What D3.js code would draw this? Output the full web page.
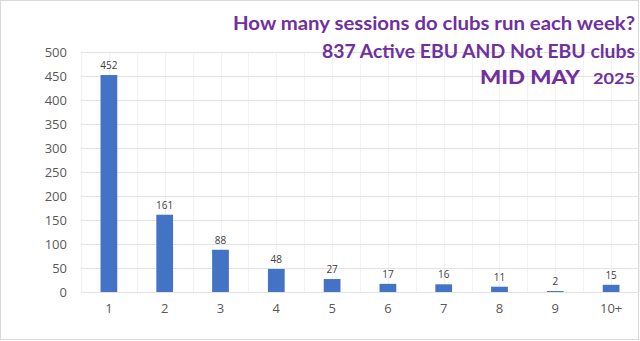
<!DOCTYPE html>
<html><head><meta charset="utf-8">
<script src="https://cdn.jsdelivr.net/npm/d3@7"></script>
<style>html,body{margin:0;padding:0;background:#fff;}svg{display:block;}</style>
</head><body>
<svg id="chart" width="640" height="341"></svg>
<script>
const categories = ["1","2","3","4","5","6","7","8","9","10+"];
const sessions = [452,161,88,48,27,17,16,11,2,15];
const yTicks = [0,50,100,150,200,250,300,350,400,450,500];
const titleLines = ["How many sessions do clubs run each week?","837 Active EBU AND Not EBU clubs"];
const titleLine3a = "MID MAY";
const titleLine3b = "2025";

const W = 640, H = 341;
const m = {left:81, right:1, top:52, bottom:49};
const svg = d3.select("#chart");

svg.append("rect").attr("x",0.5).attr("y",0.5).attr("width",W-2).attr("height",H-2)
  .attr("fill","#fff").attr("stroke","#d9d9d9");

const x = d3.scaleBand().domain(categories).range([m.left, W-m.right]);
const y = d3.scaleLinear().domain([0,500]).range([H-m.bottom, m.top]);

// vertical light grid lines at band boundaries and centers
const vlines = [];
categories.forEach(c => { vlines.push(x(c)); vlines.push(x(c)+x.bandwidth()/2); });
vlines.push(x(categories[categories.length-1])+x.bandwidth());
svg.append("g").selectAll("line").data(vlines).join("line")
  .attr("x1",d=>Math.round(d)+0.5).attr("x2",d=>Math.round(d)+0.5)
  .attr("y1",y(500)).attr("y2",y(0))
  .attr("stroke","#f2f2f2").attr("stroke-width",1);

// horizontal grid
svg.append("g").selectAll("line").data(yTicks).join("line")
  .attr("x1",m.left).attr("x2",W-m.right)
  .attr("y1",d=>Math.round(y(d))+0.5).attr("y2",d=>Math.round(y(d))+0.5)
  .attr("stroke","#e3e3e3").attr("stroke-width",1);

// y axis labels
const yAxis = d3.axisLeft(y).tickValues(yTicks).tickSize(0).tickPadding(0);
const gy = svg.append("g").attr("transform",`translate(67,0)`).call(yAxis);
gy.select(".domain").remove();
gy.selectAll("text").attr("font-family","'Open Sans', sans-serif").attr("font-size",13).attr("fill","#595959");

// x axis labels
const xAxis = d3.axisBottom(x).tickSize(0).tickPadding(0);
const gx = svg.append("g").attr("transform",`translate(0,${y(0)+12})`).call(xAxis);
gx.select(".domain").remove();
gx.selectAll("text").attr("font-family","'Open Sans', sans-serif").attr("font-size",13).attr("fill","#595959");

// bars
const bw = x.bandwidth()*0.3;
svg.append("g").selectAll("rect").data(sessions).join("rect")
  .attr("x",(d,i)=>x(categories[i])+x.bandwidth()/2-bw/2)
  .attr("width",bw)
  .attr("y",d=>y(d)).attr("height",d=>y(0)-y(d))
  .attr("fill","#4472C4");

// value labels
svg.append("g").selectAll("text").data(sessions).join("text")
  .attr("x",(d,i)=>x(categories[i])+x.bandwidth()/2)
  .attr("y",d=>y(d)-6)
  .attr("text-anchor","middle")
  .attr("font-family","'Open Sans', sans-serif").attr("font-size",10).attr("fill","#404040")
  .text(d=>d);

// title
const tc = "#7030A0";
function title(txt, xs, yb, size, len, weight){
  svg.append("text").attr("x",xs).attr("y",yb)
    .attr("font-family","Lato, sans-serif").attr("font-weight",weight||"bold").attr("font-size",size).attr("fill",tc)
    .attr("textLength",len).attr("lengthAdjust","spacingAndGlyphs")
    .text(txt);
}
title(titleLines[0], 233, 29.5, 18.5, 402);
title(titleLines[1], 322, 57.5, 18.5, 313);
title(titleLine3a, 480, 83.5, 19.5, 100, 900);
title(titleLine3b, 593, 83.5, 15.5, 42);
</script>
</body></html>
